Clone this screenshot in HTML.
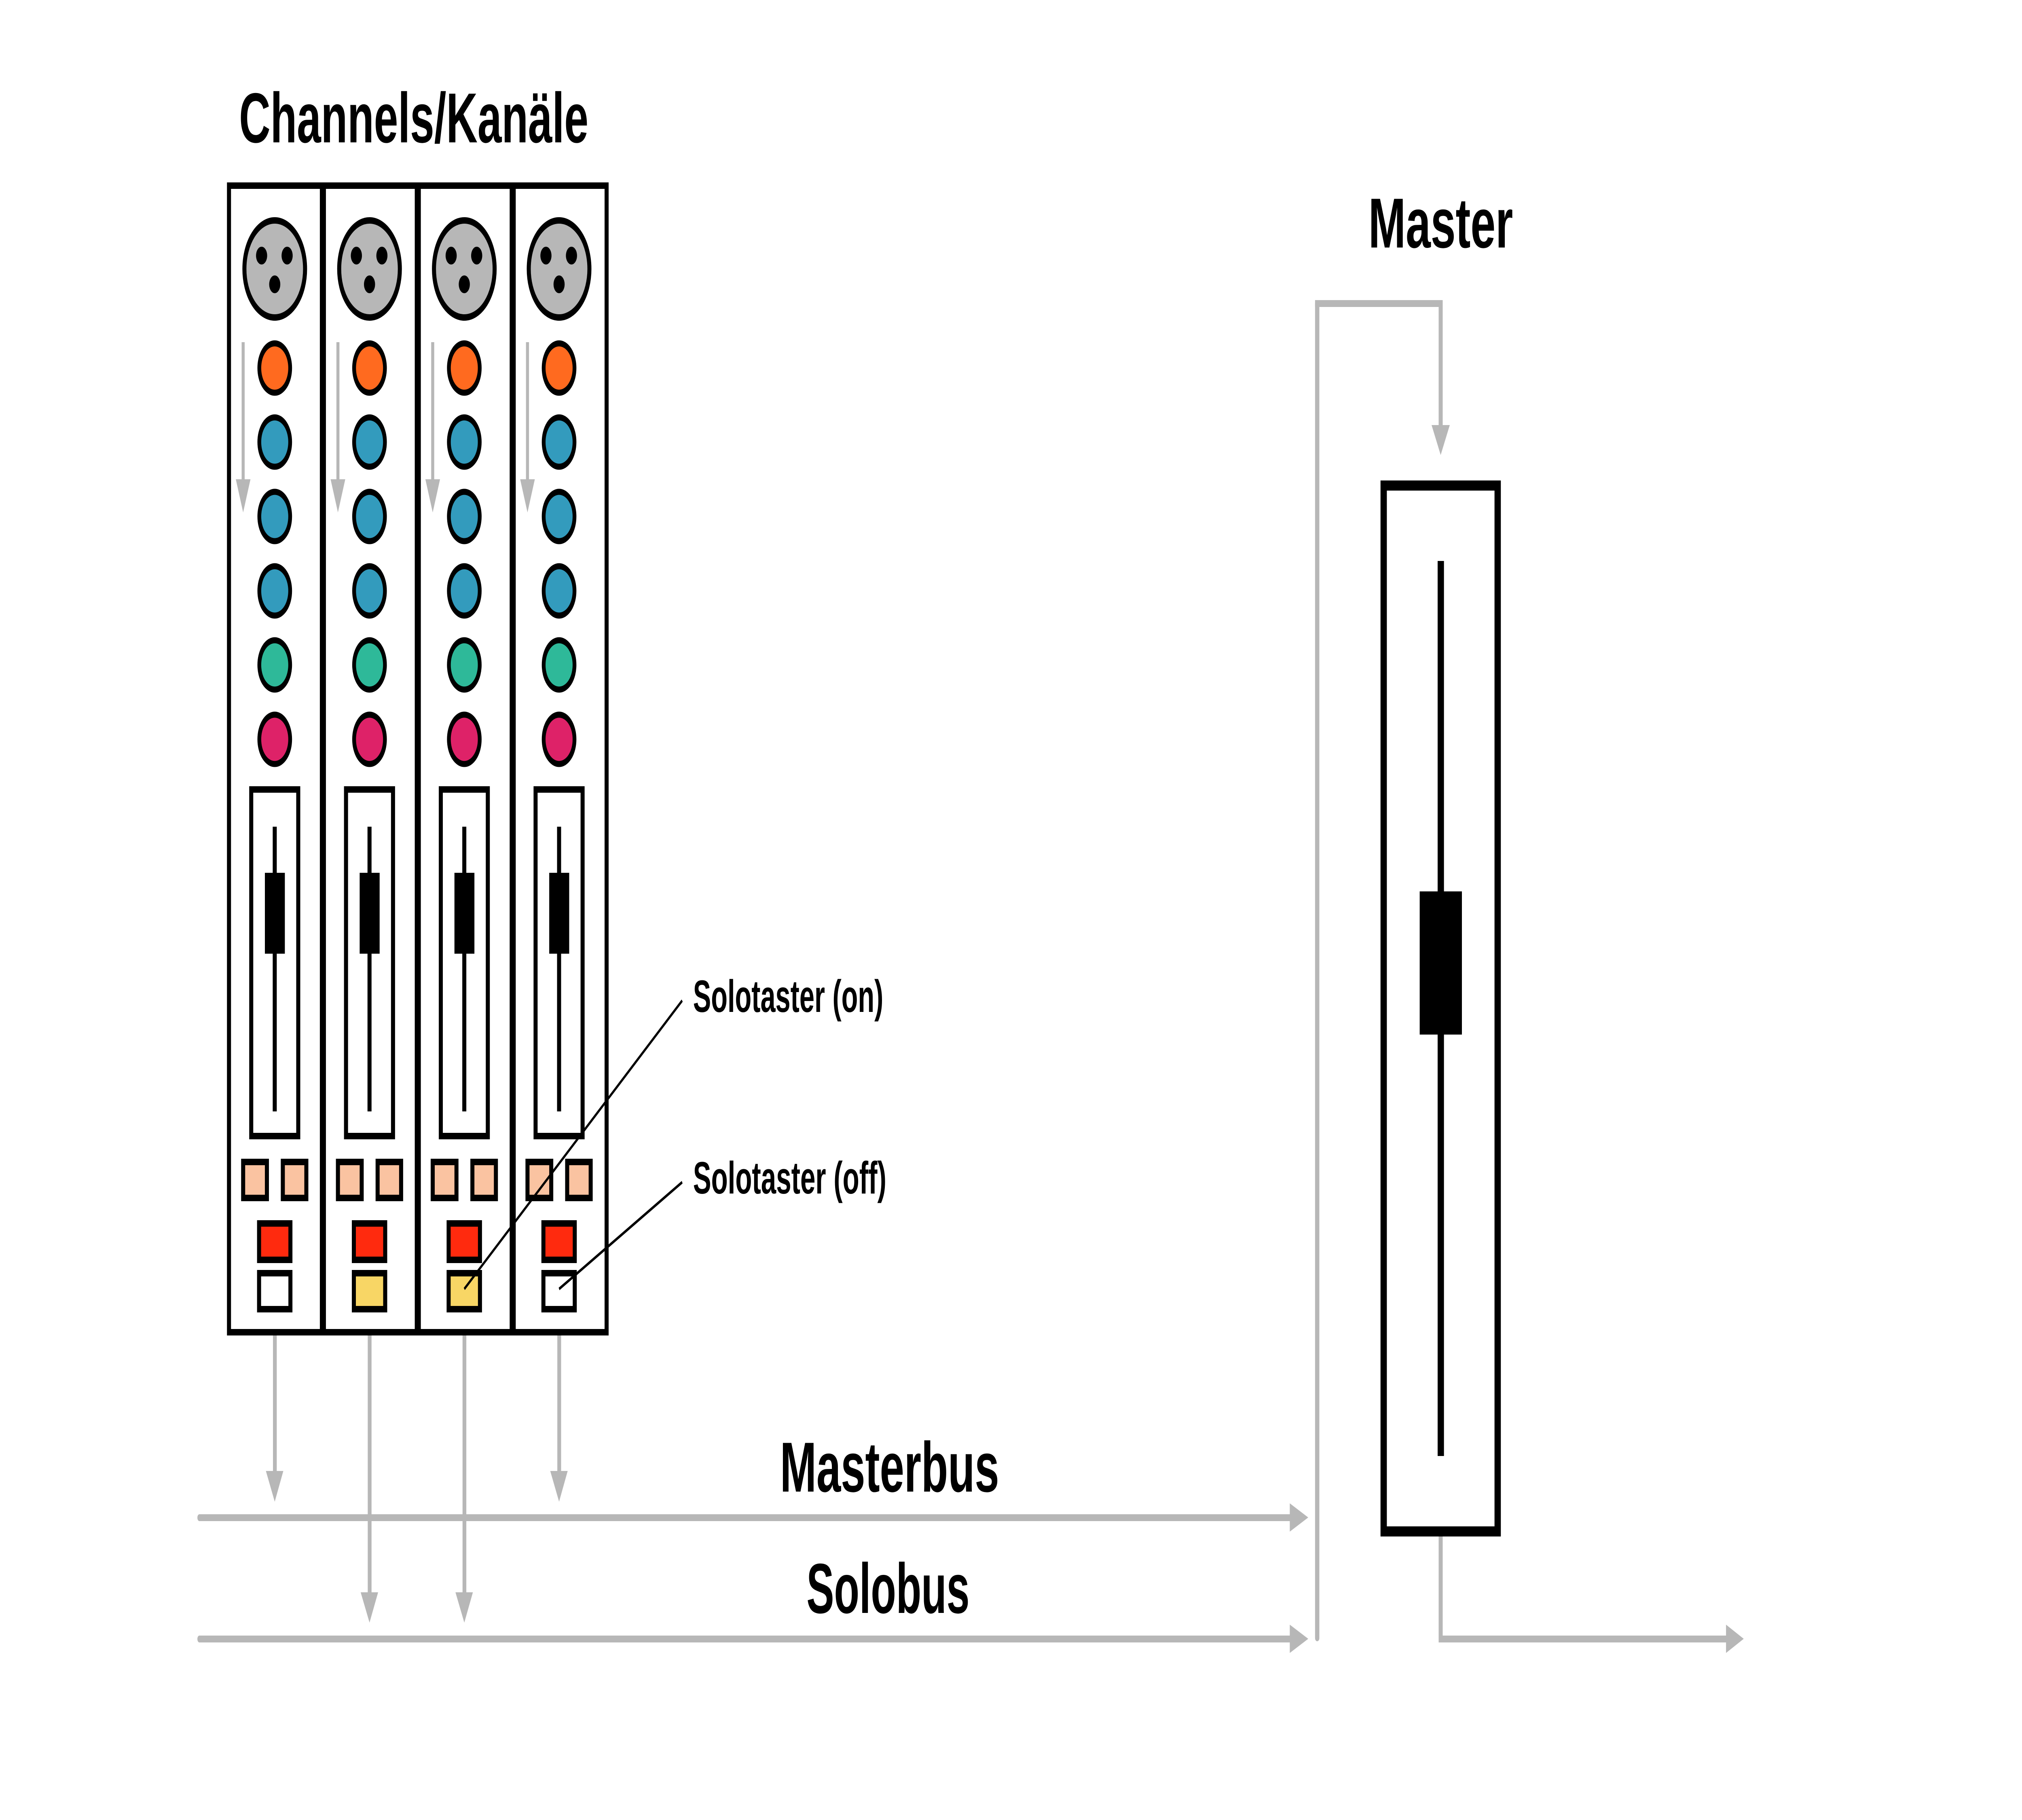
<!DOCTYPE html>
<html><head><meta charset="utf-8"><style>html,body{margin:0;padding:0;background:#fff;width:100%;height:100%;overflow:hidden}svg{display:block;width:100vw;height:100vh}</style></head>
<body>
<svg xmlns="http://www.w3.org/2000/svg" viewBox="0 0 8000 4500" preserveAspectRatio="none">
<rect width="8000" height="4500" fill="#fff"/>
<g font-family="'Liberation Sans', sans-serif" font-weight="bold" fill="#000">
<text x="946" y="352" font-size="175" textLength="1382" lengthAdjust="spacingAndGlyphs">Channels/Kanäle</text>
<text x="5414" y="612" font-size="175" textLength="572" lengthAdjust="spacingAndGlyphs">Master</text>
<text x="3086" y="3688" font-size="175" textLength="867" lengthAdjust="spacingAndGlyphs">Masterbus</text>
<text x="3191" y="3988" font-size="175" textLength="645" lengthAdjust="spacingAndGlyphs">Solobus</text>
<text x="2742" y="2502" font-size="112" textLength="753" lengthAdjust="spacingAndGlyphs">Solotaster (on)</text>
<text x="2742" y="2951" font-size="112" textLength="765" lengthAdjust="spacingAndGlyphs">Solotaster (off)</text>
</g>

<rect x="906" y="459" width="367.5" height="2835" fill="none" stroke="#000" stroke-width="16"/>
<rect x="1281.5" y="459" width="367.5" height="2835" fill="none" stroke="#000" stroke-width="16"/>
<rect x="1657" y="459" width="367.5" height="2835" fill="none" stroke="#000" stroke-width="16"/>
<rect x="2032.5" y="459" width="367.5" height="2835" fill="none" stroke="#000" stroke-width="16"/>

<defs>
<g id="ch">
 <circle cx="0" cy="665" r="120" fill="#B7B7B7" stroke="#000" stroke-width="16"/>
 <circle cx="-52" cy="632" r="22" fill="#000"/>
 <circle cx="49" cy="632" r="22" fill="#000"/>
 <circle cx="0" cy="703" r="22" fill="#000"/>
 <line x1="-125" y1="846" x2="-125" y2="1190" stroke="#B7B7B7" stroke-width="12"/>
 <polygon points="-154,1185 -96,1185 -125,1267" fill="#B7B7B7"/>
 <circle cx="0" cy="910" r="61" fill="#FF6A1F" stroke="#000" stroke-width="15"/>
 <circle cx="0" cy="1093" r="61" fill="#339BBD" stroke="#000" stroke-width="15"/>
 <circle cx="0" cy="1277" r="61" fill="#339BBD" stroke="#000" stroke-width="15"/>
 <circle cx="0" cy="1461" r="61" fill="#339BBD" stroke="#000" stroke-width="15"/>
 <circle cx="0" cy="1644" r="61" fill="#2EB999" stroke="#000" stroke-width="15"/>
 <circle cx="0" cy="1828" r="61" fill="#DE2268" stroke="#000" stroke-width="15"/>
 <rect x="-93" y="1952" width="186" height="857" fill="#fff" stroke="#000" stroke-width="16"/>
 <rect x="-8" y="2044" width="16" height="704" fill="#000"/>
 <rect x="-39" y="2158" width="79" height="200" fill="#000"/>
 <rect x="-125" y="2873" width="94" height="89" fill="#FAC3A1" stroke="#000" stroke-width="16"/>
 <rect x="32" y="2873" width="93" height="89" fill="#FAC3A1" stroke="#000" stroke-width="16"/>
 <rect x="-62" y="3025" width="124" height="90" fill="#FF2A0E" stroke="#000" stroke-width="16"/>
</g>
</defs>
<use href="#ch" x="1087"/>
<use href="#ch" x="1462"/>
<use href="#ch" x="1837"/>
<use href="#ch" x="2212"/>
<rect x="1025" y="3148" width="124" height="89" fill="#fff" stroke="#000" stroke-width="16"/>
<rect x="1400" y="3148" width="124" height="89" fill="#F8D665" stroke="#000" stroke-width="16"/>
<rect x="1775" y="3148" width="124" height="89" fill="#F8D665" stroke="#000" stroke-width="16"/>
<rect x="2150" y="3148" width="124" height="89" fill="#fff" stroke="#000" stroke-width="16"/>

<line x1="2699" y1="2474" x2="1837" y2="3187" stroke="#000" stroke-width="7"/>
<line x1="2699" y1="2923" x2="2212" y2="3187" stroke="#000" stroke-width="7"/>

<g fill="#B7B7B7" stroke="none">
 <rect x="1080" y="3302" width="15" height="340"/>
 <polygon points="1052,3637 1121,3637 1087,3713"/>
 <rect x="2205" y="3302" width="15" height="340"/>
 <polygon points="2177,3637 2246,3637 2212,3713"/>
 <rect x="1455" y="3302" width="15" height="640"/>
 <polygon points="1427,3937 1496,3937 1462,4012"/>
 <rect x="1830" y="3302" width="15" height="640"/>
 <polygon points="1802,3937 1871,3937 1837,4012"/>
 <rect x="781" y="3744" width="4330" height="17" rx="8"/>
 <polygon points="5103,3717 5176,3752 5103,3787"/>
 <rect x="781" y="4044" width="4330" height="17" rx="8"/>
 <polygon points="5103,4017 5176,4052 5103,4087"/>
 <rect x="5203" y="742" width="17" height="3316" rx="8"/>
 <rect x="5203" y="742" width="505" height="17"/>
 <rect x="5692" y="742" width="16" height="315"/>
 <polygon points="5664,1051 5736,1051 5700,1125"/>
 <rect x="5692" y="3799" width="16" height="261"/>
 <rect x="5692" y="4044" width="1145" height="17"/>
 <polygon points="6829,4017 6899,4052 6829,4087"/>
</g>

<rect x="5474.5" y="1200.5" width="451" height="2586" fill="none" stroke="#000" stroke-width="25"/>
<rect x="5688" y="1387" width="25" height="2213" fill="#000"/>
<rect x="5617" y="2204" width="167" height="354" fill="#000"/>
</svg>
</body></html>
